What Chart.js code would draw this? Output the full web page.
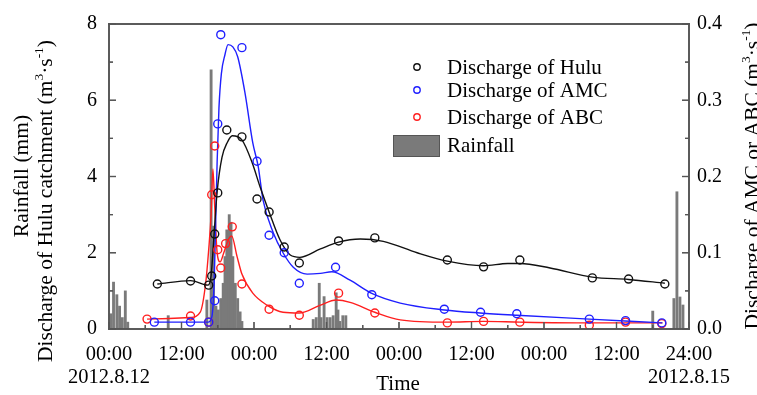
<!DOCTYPE html>
<html>
<head>
<meta charset="utf-8">
<script src="https://cdn.jsdelivr.net/npm/chart.js@4.4.1/dist/chart.umd.min.js"></script>
<style>
  html, body { margin: 0; padding: 0; background: #fff; }
  #wrap { position: relative; width: 757px; height: 395px; }
  #frame { position: absolute; left: 0; top: 0; pointer-events: none; }
</style>
</head>
<body>
<div id="wrap"><canvas id="chart"></canvas><canvas id="frame" width="757" height="395"></canvas></div>
<script>
// hours since 2012.8.12 00:00
const tickHours = [0, 12, 24, 36, 48, 60, 72, 84, 96];
const tickTimes = ["00:00", "12:00", "00:00", "12:00", "00:00", "12:00", "00:00", "12:00", "24:00"];
const startDate = "2012.8.12";
const endDate = "2012.8.15";

// rainfall (mm)
const rainT = [0.3, 0.75, 1.3, 1.75, 2.2, 2.7, 3.1, 9.8,
  16.2, 16.9, 17.3, 17.7, 18.1, 18.5, 18.9, 19.2, 19.5, 19.9, 20.2, 20.5, 20.9, 21.3, 21.7, 22.0,
  33.8, 34.3, 34.8, 35.1, 35.6, 36.1, 36.6, 37.1, 37.6, 37.9, 38.2, 38.7, 39.2,
  90.0, 93.5, 94.0, 94.5, 95.0];
const rainP = [0.4, 1.23, 0.9, 0.6, 0.3, 1.0, 0.18, 0.35,
  0.76, 6.8, 2.7, 0.6, 0.5, 0.8, 1.2, 1.9, 2.6, 3.0, 2.8, 1.9, 1.2, 0.8, 0.45, 0.2,
  0.25, 0.3, 1.2, 0.3, 0.85, 0.3, 0.3, 0.35, 0.95, 0.5, 0.2, 0.35, 0.35,
  0.47, 0.8, 3.6, 0.84, 0.63];

// measured discharge, Hulu catchment (left axis)
const huluT = [8, 13.5, 16.5, 17, 17.5, 18, 19.5, 22, 24.5, 26.5, 29, 31.5, 38, 44, 56, 62, 68, 80, 86, 92];
const huluQ = [1.18, 1.26, 1.15, 1.39, 2.49, 3.57, 5.22, 5.04, 3.41, 3.07, 2.15, 1.73, 2.31, 2.39, 1.81, 1.63, 1.81, 1.34, 1.31, 1.18];
// fitted curve, Hulu
const huluFitT = [8, 13.5, 16.4, 16.9, 17.4, 17.9, 18.7, 19.6, 20.4, 22, 23.7, 25, 26.5, 28.3, 30, 31.6, 35, 38, 41.6, 45.4, 51, 56, 62, 66, 68, 73, 80, 86, 92];
const huluFitQ = [1.18, 1.27, 1.15, 1.4, 2.5, 3.6, 4.5, 4.9, 5.07, 4.96, 4.36, 3.73, 3.07, 2.34, 1.94, 1.88, 2.1, 2.28, 2.36, 2.3, 2.0, 1.78, 1.66, 1.72, 1.72, 1.6, 1.36, 1.3, 1.2];

// measured discharge, AMC (right axis)
const amcT = [7.5, 13.5, 16.5, 17.5, 18, 18.5, 22, 24.5, 26.5, 29, 31.5, 37.5, 43.5, 55.5, 61.5, 67.5, 79.5, 85.5, 91.5];
const amcQ = [0.009, 0.009, 0.009, 0.037, 0.269, 0.386, 0.369, 0.220, 0.123, 0.100, 0.060, 0.081, 0.045, 0.026, 0.022, 0.020, 0.013, 0.011, 0.008];
const amcFitT = [7.5, 16.4, 17.0, 17.4, 17.6, 17.9, 18.2, 18.6, 19.2, 19.7, 20.5, 21.3, 22.5, 23.8, 24.7, 25.5, 27.2, 28.8, 30.5, 32.8, 35, 36.9, 39.9, 43.4, 48.2, 55.5, 61.4, 67.5, 79.5, 91.6];
const amcFitQ = [0.009, 0.009, 0.015, 0.06, 0.12, 0.22, 0.29, 0.335, 0.36, 0.373, 0.37, 0.357, 0.31, 0.244, 0.213, 0.169, 0.126, 0.10, 0.081, 0.072, 0.073, 0.075, 0.064, 0.047, 0.034, 0.025, 0.021, 0.018, 0.013, 0.008];

// measured discharge, ABC (right axis)
const abcT = [6.3, 13.5, 16.5, 17, 17.5, 18, 18.5, 19.3, 20.4, 22, 26.5, 31.5, 38, 44, 56, 62, 68, 79.5, 85.5, 91.5];
const abcQ = [0.013, 0.017, 0.009, 0.176, 0.240, 0.104, 0.080, 0.112, 0.134, 0.059, 0.026, 0.018, 0.047, 0.021, 0.008, 0.010, 0.009, 0.005, 0.009, 0.007];
const abcFitT = [6.3, 13.5, 15.1, 16.0, 16.5, 16.9, 17.2, 17.5, 17.9, 18.4, 19.0, 19.8, 20.3, 21.2, 22, 23.8, 26.2, 28.8, 31.5, 34.9, 37.6, 39.9, 44, 48.2, 56, 62, 68, 79.5, 91.6];
const abcFitQ = [0.013, 0.015, 0.022, 0.06, 0.104, 0.15, 0.21, 0.16, 0.1, 0.088, 0.1, 0.118, 0.122, 0.095, 0.072, 0.047, 0.031, 0.022, 0.021, 0.031, 0.038, 0.035, 0.022, 0.012, 0.009, 0.010, 0.009, 0.008, 0.008];

const serif = "'Liberation Serif', 'Times New Roman', serif";
const frameColor = "#555";
const black = "#111";
const blue = "#1f1fff";
const red = "#ff1f1f";
const gray = "#7a7a7a";

Chart.defaults.font.family = serif;
Chart.defaults.color = "#000";

const pts = (xs, ys) => xs.map((x, i) => ({ x: x, y: ys[i] }));

function fitLine(xs, ys, color, axis) {
  return {
    type: "line",
    data: pts(xs, ys),
    yAxisID: axis,
    borderColor: color,
    borderWidth: 1.4,
    pointRadius: 0,
    cubicInterpolationMode: "monotone",
    fill: false,
    order: 2,
  };
}

function markers(xs, ys, color, axis) {
  return {
    type: "scatter",
    data: pts(xs, ys),
    yAxisID: axis,
    borderColor: color,
    backgroundColor: "rgba(0,0,0,0)",
    borderWidth: 1.4,
    pointRadius: 4,
    showLine: false,
    order: 1,
  };
}

// draws rotated text with superscripts
function drawRotated(ctx, parts, cx, cy, size) {
  ctx.save();
  ctx.translate(cx, cy);
  ctx.rotate(-Math.PI / 2);
  ctx.textAlign = "left";
  ctx.textBaseline = "middle";
  ctx.fillStyle = "#000";
  let w = 0;
  parts.forEach((p) => {
    ctx.font = (p.sup ? size * 0.62 : size) + "px " + serif;
    w += ctx.measureText(p.t).width;
  });
  let x = -w / 2;
  parts.forEach((p) => {
    ctx.font = (p.sup ? size * 0.62 : size) + "px " + serif;
    ctx.fillText(p.t, x, p.sup ? -size * 0.32 : 0);
    x += ctx.measureText(p.t).width;
  });
  ctx.restore();
}

// plot box with inward ticks, placed from the chart's own scales
function drawFrame(ctx, chart) {
  const a = chart.chartArea;
  const sc = chart.scales;
  const lw = 1.6;
  ctx.save();
  ctx.setTransform(1, 0, 0, 1, 0, 0);
  ctx.globalAlpha = 1;
  ctx.globalCompositeOperation = "source-over";
  ctx.fillStyle = frameColor;
  ctx.fillRect(a.left - lw / 2, a.top - lw / 2, a.right - a.left + lw, lw);
  ctx.fillRect(a.left - lw / 2, a.bottom - lw / 2, a.right - a.left + lw, lw);
  ctx.fillRect(a.left - lw / 2, a.top - lw / 2, lw, a.bottom - a.top + lw);
  ctx.fillRect(a.right - lw / 2, a.top - lw / 2, lw, a.bottom - a.top + lw);
  for (let v = 0; v <= 8; v++) {
    const y = sc.y.getPixelForValue(v);
    ctx.fillRect(a.left, y - 0.6, v % 2 ? 4 : 7, 1.2);
  }
  for (let i = 0; i <= 8; i++) {
    const y = sc.y2.getPixelForValue(i * 0.05);
    const len = i % 2 ? 4 : 7;
    ctx.fillRect(a.right - len, y - 0.6, len, 1.2);
  }
  for (let h = 0; h <= 96; h += 6) {
    const x = sc.x.getPixelForValue(h);
    const len = h % 12 ? 4 : 7;
    ctx.fillRect(x - 0.6, a.bottom - len, 1.2, len);
  }
  ctx.restore();
}

const legendAndTitles = {
  id: "legendAndTitles",
  afterDraw(chart) {
    const ctx = chart.ctx;
    const ds = chart.data.datasets;
    drawFrame(ctx, chart);
    ctx.save();
    const rows = [
      { label: "Discharge of Hulu", color: ds[1].borderColor, y: 67 },
      { label: "Discharge of AMC", color: ds[3].borderColor, y: 90 },
      { label: "Discharge of ABC", color: ds[5].borderColor, y: 117 },
    ];
    ctx.font = "21px " + serif;
    ctx.textAlign = "left";
    ctx.textBaseline = "middle";
    ctx.fillStyle = "#000";
    rows.forEach((r) => {
      ctx.beginPath();
      ctx.strokeStyle = r.color;
      ctx.lineWidth = 1.4;
      ctx.arc(417, r.y, 3.2, 0, Math.PI * 2);
      ctx.stroke();
      ctx.fillText(r.label, 447, r.y + 1);
    });
    ctx.fillStyle = "#555";
    ctx.fillRect(393, 135, 47, 22);
    ctx.fillStyle = ds[6].backgroundColor;
    ctx.fillRect(394, 136, 45, 20);
    ctx.fillStyle = "#000";
    ctx.fillText("Rainfall", 447, 146);

    ctx.textAlign = "center";
    ctx.fillText("Time", 398, 384);
    drawRotated(ctx, [{ t: "Rainfall (mm)" }], 22, 176, 21.5);
    drawRotated(ctx, [
      { t: "Discharge of Hulu catchment (m" }, { t: "3", sup: true },
      { t: "·s" }, { t: "-1", sup: true }, { t: ")" }], 46, 201, 21.5);
    drawRotated(ctx, [
      { t: "Discharge of AMC or ABC (m" }, { t: "3", sup: true },
      { t: "·s" }, { t: "-1", sup: true }, { t: ")" }], 753, 176, 21.5);
    ctx.restore();
  },
};

const chart = new Chart(document.getElementById("chart"), {
  type: "scatter",
  data: {
    datasets: [
      fitLine(huluFitT, huluFitQ, black, "y"),
      markers(huluT, huluQ, black, "y"),
      fitLine(amcFitT, amcFitQ, blue, "y2"),
      markers(amcT, amcQ, blue, "y2"),
      fitLine(abcFitT, abcFitQ, red, "y2"),
      markers(abcT, abcQ, red, "y2"),
      {
        type: "bar",
        data: pts(rainT, rainP),
        yAxisID: "y",
        backgroundColor: gray,
        borderWidth: 0,
        barThickness: 2.2,
        order: 10,
      },
    ],
  },
  options: {
    responsive: true,
    maintainAspectRatio: false,
    animation: false,
    layout: { padding: { top: 23, left: 0, right: 0, bottom: 0 } },
    plugins: {
      legend: { display: false },
      tooltip: { enabled: false },
    },
    scales: {
      x: {
        type: "linear",
        min: 0,
        max: 96,
        offset: false,
        grid: { display: false, drawTicks: false, offset: false },
        border: { display: false },
        afterBuildTicks: (s) => { s.ticks = tickHours.map((v) => ({ value: v })); },
        afterFit: (s) => { s.height = 66; },
        ticks: {
          autoSkip: false,
          maxRotation: 0,
          padding: 15,
          font: { size: 20.5, lineHeight: 1.08 },
          callback: (v, i) => {
            if (i === 0) return [tickTimes[i], startDate];
            if (i === tickTimes.length - 1) return [tickTimes[i], endDate];
            return tickTimes[i];
          },
        },
      },
      y: {
        position: "left",
        min: 0,
        max: 8,
        grid: { display: false, drawTicks: false },
        border: { display: false },
        afterFit: (s) => { s.width = 109; },
        ticks: { stepSize: 2, padding: 12, font: { size: 20 } },
      },
      y2: {
        position: "right",
        min: 0,
        max: 0.4,
        grid: { display: false, drawTicks: false },
        border: { display: false },
        afterFit: (s) => { s.width = 68; },
        ticks: { stepSize: 0.1, padding: 8, font: { size: 20 }, callback: (v) => v.toFixed(1) },
      },
    },
  },
  plugins: [legendAndTitles],
});

// second pass on an overlay canvas, same pixel grid as the chart
drawFrame(document.getElementById("frame").getContext("2d"), chart);
</script>
</body>
</html>
